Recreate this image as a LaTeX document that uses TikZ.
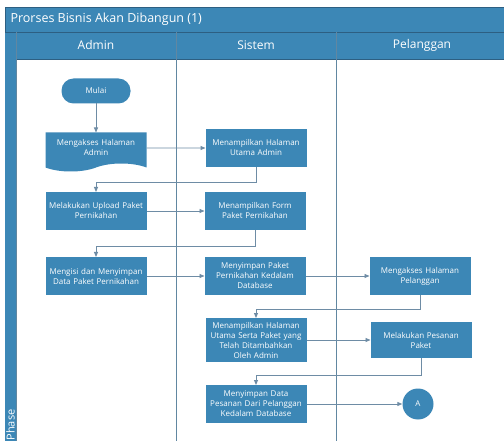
\documentclass[tikz,border=0pt]{standalone}
\usepackage{fontspec}
\setmainfont{Open Sans}
\usetikzlibrary{positioning,shapes.symbols,arrows.meta}
\definecolor{boxblue}{RGB}{60,135,182}
\definecolor{framec}{RGB}{45,95,130}
\definecolor{linec}{RGB}{110,140,165}

\begin{document}
\begin{tikzpicture}[
    x=1pt, y=-1pt,
    font=\fontsize{8}{10}\selectfont,
 mynode/.style = {
        rectangle, fill=boxblue, text=white, align=center,
        text width=99pt, minimum width=101pt, minimum height=38pt,
        inner xsep=1pt, inner ysep=2pt, outer sep=0pt},
  mydoc/.style = {
        mynode, tape, tape bend top=none, tape bend bottom=in and out,
        tape bend height=8pt},
mystart/.style = {
        rectangle, rounded corners=12pt, fill=boxblue, text=white,
        minimum width=69pt, minimum height=25pt, outer sep=0pt},
  myend/.style = {
        circle, fill=boxblue, text=white, minimum size=31pt, inner sep=0pt},
 mylane/.style = {
        rectangle, draw=framec, fill=boxblue, text=white, line width=0.8pt,
        minimum height=27pt, font=\fontsize{12}{14}\selectfont},
  laneline/.style = {draw=framec!75!white, line width=1pt},
     arrow/.style = {draw=linec, line width=0.9pt,
                     -{Triangle[length=5pt,width=4pt]}}
                    ]
\useasboundingbox (0,0) rectangle (504,441);
\fill[white] (0,0) rectangle (504,441);
% the title bar
\fill[boxblue] (5,7) rectangle (512,32);
\draw[framec, line width=0.8pt] (5,450) -- (5,7) -- (512,7);
\node (title) [anchor=west, text=white, font=\fontsize{12.5}{15}\selectfont]
      at (7,19.5) {Prorses Bisnis Akan Dibangun (1)};
% the lanes
\node (hadm) [mylane, minimum width=160pt] at (96,45.5)  {Admin};
\node (hsis) [mylane, minimum width=160pt] at (256,45.5) {Sistem};
\node (hpel) [mylane, minimum width=172pt] at (422,45.5) {Pelanggan};
\fill[boxblue] (5,32) rectangle (16,450);
\draw[framec, line width=0.8pt] (5,32) -- (16,32);
\node (phase) [rotate=90, anchor=west, text=white,
      font=\fontsize{11}{13}\selectfont] at (10.5,444) {Phase};
\draw[laneline] (16,32)  -- (16,450);
\draw[laneline] (176,32) -- (176,450);
\draw[laneline] (336,32) -- (336,450);

% the nodes, admin lane
\node (mulai) [mystart] at (96,91)   {Mulai};
\node (na1)   [mydoc, minimum height=39pt] at (96,148) {Mengakses Halaman\\
                                   Admin};
\node (na2)   [mynode] at (96,211)   {Melakukan Upload Paket\\
                                   Pernikahan};
\node (na3)   [mynode] at (96,276)   {Mengisi dan Menyimpan\\
                                   Data Paket Pernikahan};
% the nodes, sistem lane
\node (ns1)   [mynode] at (256,148)  {Menampilkan Halaman\\
                                   Utama Admin};
\node (ns2)   [mynode,right=58pt of na2] {Menampilkan Form\\
                                   Paket Pernikahan};
\node (ns3)   [mynode,right=58pt of na3] {Menyimpan Paket\\
                                   Pernikahan Kedalam\\
                                   Database};
\node (ns4)   [mynode, minimum height=44pt] at (256,340) {Menampilkan Halaman\\
                                   Utama Serta Paket yang\\
                                   Telah Ditambahkan\\
                                   Oleh Admin};
\node (ns5)   [mynode] at (256,404)  {Menyimpan Data\\
                                   Pesanan Dari Pelanggan\\
                                   Kedalam Database};
% the nodes, pelanggan lane
\node (np1)   [mynode,right=64pt of ns3] {Mengakses Halaman\\
                                   Pelanggan};
\node (np2)   [mynode, minimum height=36pt,right=64pt of ns4] {Melakukan Pesanan\\
                                   Paket};
\node (na)    [myend] at (418,404)   {A};

% the connectors
\draw[arrow] (mulai) -- (na1);
\draw[arrow] (na1) -- (ns1);
\draw[arrow] (ns1.south) -- ++(0,15) -| (na2.north);
\draw[arrow] (na2) -- (ns2);
\draw[arrow] (ns2.south) -- ++(0,16) -| (na3.north);
\draw[arrow] (na3) -- (ns3);
\draw[arrow] (ns3) -- (np1);
\draw[arrow] (np1.south) -- ++(0,14) -| (ns4.north);
\draw[arrow] (ns4) -- (np2);
\draw[arrow] (np2.south) -- ++(0,17) -| (ns5.north);
\draw[arrow] (ns5) -- (na);
\end{tikzpicture}
\end{document}
